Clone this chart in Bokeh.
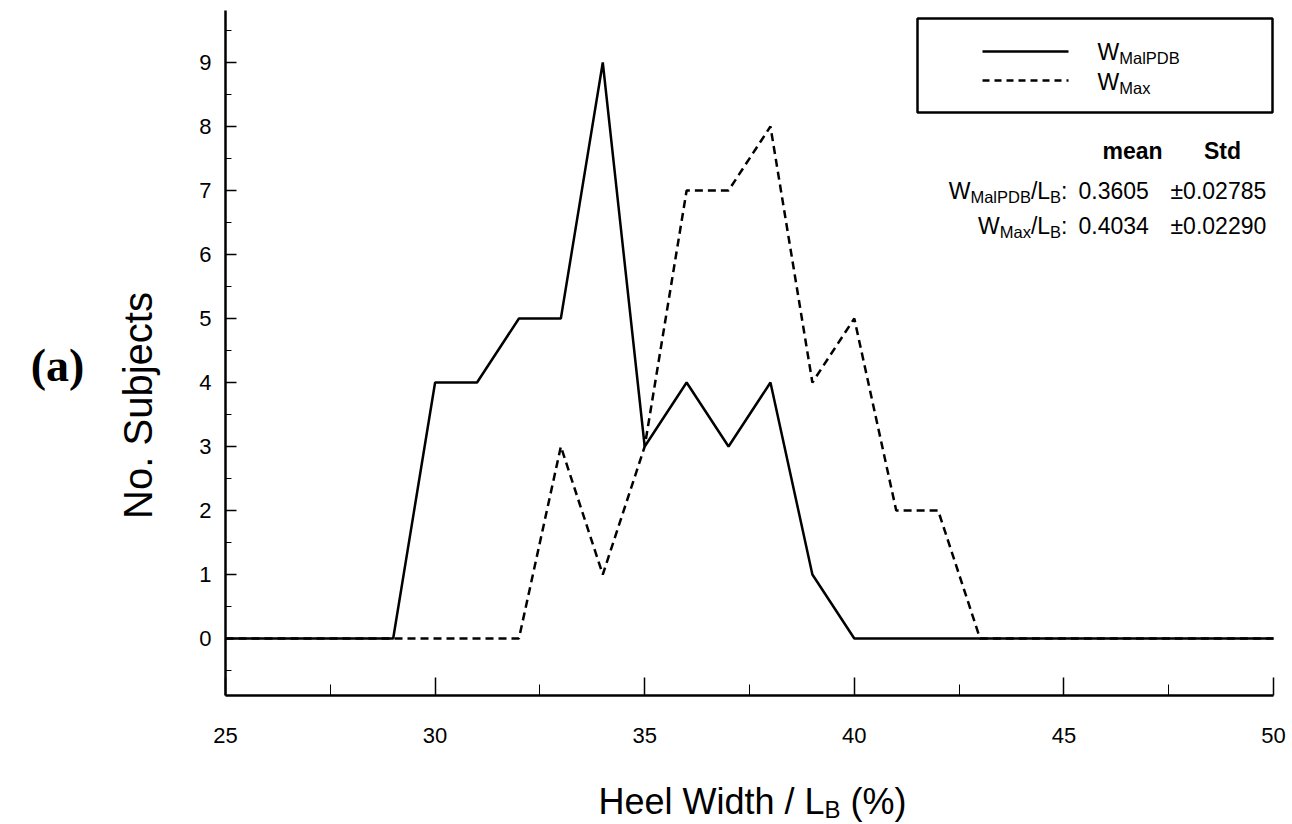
import math
from bokeh.plotting import figure
from bokeh.models import Label, BoxAnnotation, FixedTicker, Range1d
from bokeh.embed import file_html
from bokeh.resources import INLINE

# ---------------- data ----------------
heel_width = list(range(25, 51))
w_malpdb = [0, 0, 0, 0, 0, 4, 4, 5, 5, 9, 3, 4, 3, 4, 1, 0, 0, 0, 0, 0, 0, 0, 0, 0, 0, 0]
w_max = [0, 0, 0, 0, 0, 0, 0, 0, 3, 1, 3, 7, 7, 8, 4, 5, 2, 2, 0, 0, 0, 0, 0, 0, 0, 0]
x_ticks = [25, 30, 35, 40, 45, 50]
x_minor = [27.5, 32.5, 37.5, 42.5, 47.5]
y_ticks = [0, 1, 2, 3, 4, 5, 6, 7, 8, 9]
y_minor = [-0.5, 0.5, 1.5, 2.5, 3.5, 4.5, 5.5, 6.5, 7.5, 8.5, 9.5]
stat_means = ["0.3605", "0.4034"]
stat_stds = ["\u00b10.02785", "\u00b10.02290"]

# ---------------- layout (page pixels) ----------------
W_PX, H_PX = 1292, 824
AX_L, AX_R, AX_T, AX_B = 225, 1273, 10, 695   # axis box on the page
ZERO_PY, PXY = 638, 64.0
PXX = (AX_R - AX_L) / 25.0


def X(px):
    return 25 + (px - AX_L) / PXX


def Y(py):
    return (ZERO_PY - py) / PXY


FONT = "Liberation Sans"

p = figure(width=W_PX, height=H_PX, output_backend="svg", toolbar_location=None,
           x_range=Range1d(X(0), X(W_PX)), y_range=Range1d(Y(H_PX), Y(0)),
           min_border=0)
p.outline_line_color = None
p.grid.visible = False
p.background_fill_color = "white"
p.border_fill_color = "white"

# axes drawn at fixed positions inside the frame
p.xaxis.fixed_location = Y(AX_B)
p.xaxis.bounds = (25, 50)
p.yaxis.fixed_location = 25
p.yaxis.bounds = (Y(AX_B), Y(AX_T))
p.xaxis.ticker = FixedTicker(ticks=x_ticks, minor_ticks=x_minor)
p.yaxis.ticker = FixedTicker(ticks=y_ticks, minor_ticks=y_minor)
for ax in (p.xaxis, p.yaxis):
    ax.axis_line_width = 2.5
    ax.axis_line_color = "black"
    ax.major_tick_out = 0
    ax.minor_tick_out = 0
    ax.major_tick_line_width = 1.5
    ax.minor_tick_line_width = 1
    ax.major_tick_line_color = "black"
    ax.minor_tick_line_color = "black"
    ax.major_label_text_font = FONT
    ax.major_label_text_font_size = "22px"
    ax.major_label_text_color = "black"
p.xaxis.major_tick_in = 18
p.xaxis.minor_tick_in = 11
p.yaxis.major_tick_in = 11
p.yaxis.minor_tick_in = 6
p.xaxis.major_label_standoff = 32
p.yaxis.major_label_standoff = 14

# data lines
p.line(heel_width, w_max, line_color="black", line_width=2.5, line_dash="8 5")
p.line(heel_width, w_malpdb, line_color="black", line_width=2.5)

# ---------------- text helpers ----------------
WID = {"W": .944, "M": .833, "a": .556, "l": .222, "P": .667, "D": .722, "B": .667,
       "x": .5, "/": .278, "L": .556, ":": .278, " ": .278, "H": .722, "e": .556,
       "i": .222, "d": .556, "t": .278, "h": .556, "(": .333, ")": .333, "%": .889}


def tw(s, size):
    return sum(WID.get(c, .556) for c in s) * size


def add_text(px, py, text, size, bold=False, font=FONT, align="left",
             baseline="alphabetic", angle=0.0):
    if baseline == "alphabetic":
        py = py - 0.3 * size   # compensate for the rendered baseline offset
    p.add_layout(Label(x=X(px), y=Y(py), text=text, text_font=font,
                       text_font_size=f"{size}px",
                       text_font_style="bold" if bold else "normal",
                       text_align=align, text_baseline=baseline, angle=angle,
                       text_color="black"))


def rich(start_px, base_py, pieces):
    x = start_px
    for t, s, sub, gap in pieces:
        x += gap
        add_text(x, base_py + (4 if sub else 0), t, s)
        x += tw(t, s)


def width_of(pieces):
    return sum(tw(t, s) + g for t, s, sub, g in pieces)


MAIN, SUB = 23, 16.5

# legend box & entries
p.add_layout(BoxAnnotation(left=X(917), right=X(1272), top=Y(18), bottom=Y(112),
                           fill_alpha=0, line_color="black", line_alpha=1.0,
                           line_width=2.5))
p.line([X(982), X(1068)], [Y(51), Y(51)], line_color="black", line_width=2.5)
p.line([X(982), X(1068)], [Y(80), Y(80)], line_color="black", line_width=2.5,
       line_dash="7 5")
rich(1097, 58, [("W", MAIN, False, 0), ("MalPDB", SUB, True, 0)])
rich(1097, 88, [("W", MAIN, False, 0), ("Max", SUB, True, 0)])

# statistics block
add_text(1132, 157, "mean", 23, bold=True, align="center")
add_text(1222, 157, "Std", 23, bold=True, align="center")
row1 = [("W", MAIN, False, 0), ("MalPDB", SUB, True, 0), ("/L", MAIN, False, 0),
        ("B", SUB, True, 0), (":", MAIN, False, 0)]
row2 = [("W", MAIN, False, 0), ("Max", SUB, True, 0), ("/L", MAIN, False, 0),
        ("B", SUB, True, 0), (":", MAIN, False, 0)]
for row, base, m, s in ((row1, 197, stat_means[0], stat_stds[0]),
                        (row2, 232, stat_means[1], stat_stds[1])):
    rich(1067 - width_of(row), base, row)
    add_text(1078, base, m, MAIN)
    add_text(1170, base, s, MAIN)

# axis titles
xt = [("Heel Width / L", 36, False, 0), ("B", 24, True, 0), ("(%)", 36, False, 10)]
rich(752 - width_of(xt) / 2, 812, xt)
add_text(137, 405, "No. Subjects", 40, align="center", baseline="middle",
         angle=math.pi / 2)

# panel tag
add_text(57, 365, "(a)", 46, bold=True, font="Liberation Serif", align="center",
         baseline="middle")

open("out.html", "w").write(file_html(p, INLINE))
